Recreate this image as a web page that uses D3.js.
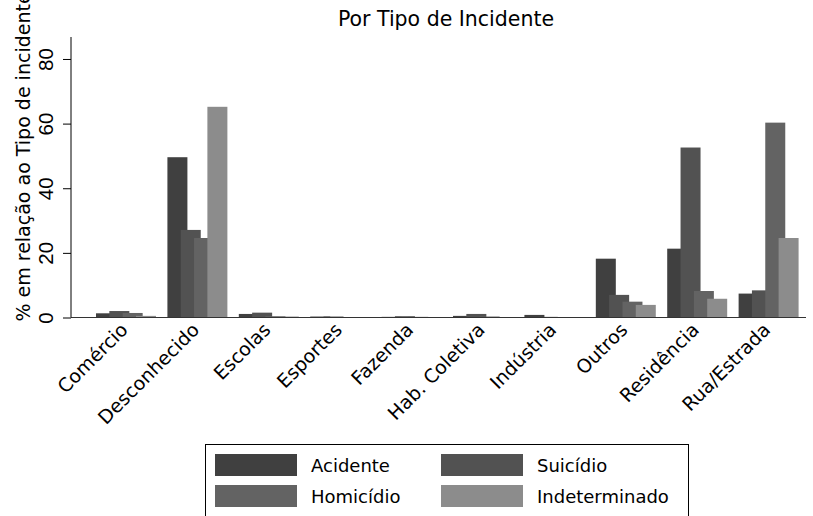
<!DOCTYPE html>
<html lang="pt">
<head>
<meta charset="utf-8">
<title>Por Tipo de Incidente</title>
<script src="https://cdn.jsdelivr.net/npm/d3@7"></script>
<style>
	body { margin: 0; background: #fff; }
	svg text { font-family: "DejaVu Sans", sans-serif; fill: #000; }
	.ytick text { font-family: "Liberation Sans", Arial, sans-serif; }
</style>
</head>
<body>
<div id="chart"></div>
<script>
var categories = ["Comércio", "Desconhecido", "Escolas", "Esportes", "Fazenda",
	"Hab. Coletiva", "Indústria", "Outros", "Residência", "Rua/Estrada"];
var series = ["Acidente", "Suicídio", "Homicídio", "Indeterminado"];
var acidente      = [1.3, 49.6, 1.1, 0.3, 0.2, 0.5, 0.8, 18.2, 21.3, 7.4];
var suicidio      = [2.0, 27.1, 1.5, 0.3, 0.4, 1.1, 0.2, 7.0, 52.6, 8.4];
var homicidio     = [1.4, 24.6, 0.4, 0.1, 0.2, 0.3, 0.1, 4.9, 8.2, 60.3];
var indeterminado = [0.5, 65.2, 0.3, 0.1, 0.0, 0.1, 0.0, 3.9, 5.8, 24.6];
var yTicks = [0, 20, 40, 60, 80];
var values = [acidente, suicidio, homicidio, indeterminado];

var colors = ["#404040", "#525252", "#636363", "#8c8c8c"];

var w = 813, h = 516;
var svg = d3.select("#chart").append("svg")
	.attr("width", w).attr("height", h);

var yScale = d3.scaleLinear().domain([0, 86.8]).range([317.5, 37]);

var xScale = d3.scaleBand().domain(categories)
	.range([90.3, 804.3]).paddingInner(0.16).paddingOuter(0.08);

var barW = 20;
var offScale = d3.scalePoint().domain(series).range([0, xScale.bandwidth() - barW]);

// bars, later series drawn on top
series.forEach(function(s, j) {
	svg.append("g").selectAll("rect")
		.data(categories.map(function(c, i) { return { c: c, v: values[j][i] }; }))
		.enter().append("rect")
		.attr("x", function(d) { return xScale(d.c) + offScale(s); })
		.attr("width", barW)
		.attr("y", function(d) { return yScale(d.v); })
		.attr("height", function(d) { return yScale(0) - yScale(d.v); })
		.attr("fill", colors[j]);
});

// baseline
svg.append("line")
	.attr("x1", 71).attr("x2", 806)
	.attr("y1", yScale(0)).attr("y2", yScale(0))
	.attr("stroke", "#333").attr("stroke-width", 1);

// y axis
var yAxis = d3.axisLeft(yScale).tickValues(yTicks).tickSize(8).tickFormat(d3.format("d"));
var gy = svg.append("g").attr("class", "ytick")
	.attr("transform", "translate(71,0)")
	.call(yAxis);
gy.select(".domain").attr("d", "M0," + yScale(86.8) + "V" + yScale(0)).attr("stroke", "#000");
gy.selectAll(".tick line").attr("stroke", "#000");
gy.selectAll(".tick text")
	.attr("font-size", 20.5)
	.attr("text-anchor", "middle")
	.attr("x", 0).attr("y", 0).attr("dy", 0)
	.attr("transform", "translate(-18,0) rotate(-90)");

// y title
svg.append("text")
	.attr("transform", "translate(30,157) rotate(-90)")
	.attr("text-anchor", "middle")
	.attr("font-size", 19)
	.text("% em relação ao Tipo de incidente");

// category labels
svg.append("g").selectAll("text")
	.data(categories).enter().append("text")
	.attr("transform", function(c) {
		return "translate(" + (xScale(c) + xScale.bandwidth() / 2 + 3) + ",331) rotate(-45)";
	})
	.attr("text-anchor", "end")
	.attr("font-size", 19)
	.text(function(c) { return c; });

// title
svg.append("text")
	.attr("x", 446).attr("y", 26)
	.attr("text-anchor", "middle")
	.attr("font-size", 20.5)
	.text("Por Tipo de Incidente");

// legend
var lg = svg.append("g");
lg.append("rect")
	.attr("x", 205.5).attr("y", 444.5).attr("width", 483).attr("height", 80)
	.attr("fill", "none").attr("stroke", "#000");
series.forEach(function(s, j) {
	var col = j % 2, row = Math.floor(j / 2);
	var gx = 215 + col * 226, gyy = 454 + row * 31;
	lg.append("rect")
		.attr("x", gx).attr("y", gyy).attr("width", 82).attr("height", 22)
		.attr("fill", colors[j]);
	lg.append("text")
		.attr("x", gx + 96).attr("y", gyy + 18)
		.attr("font-size", 18)
		.text(s);
});
</script>
</body>
</html>
